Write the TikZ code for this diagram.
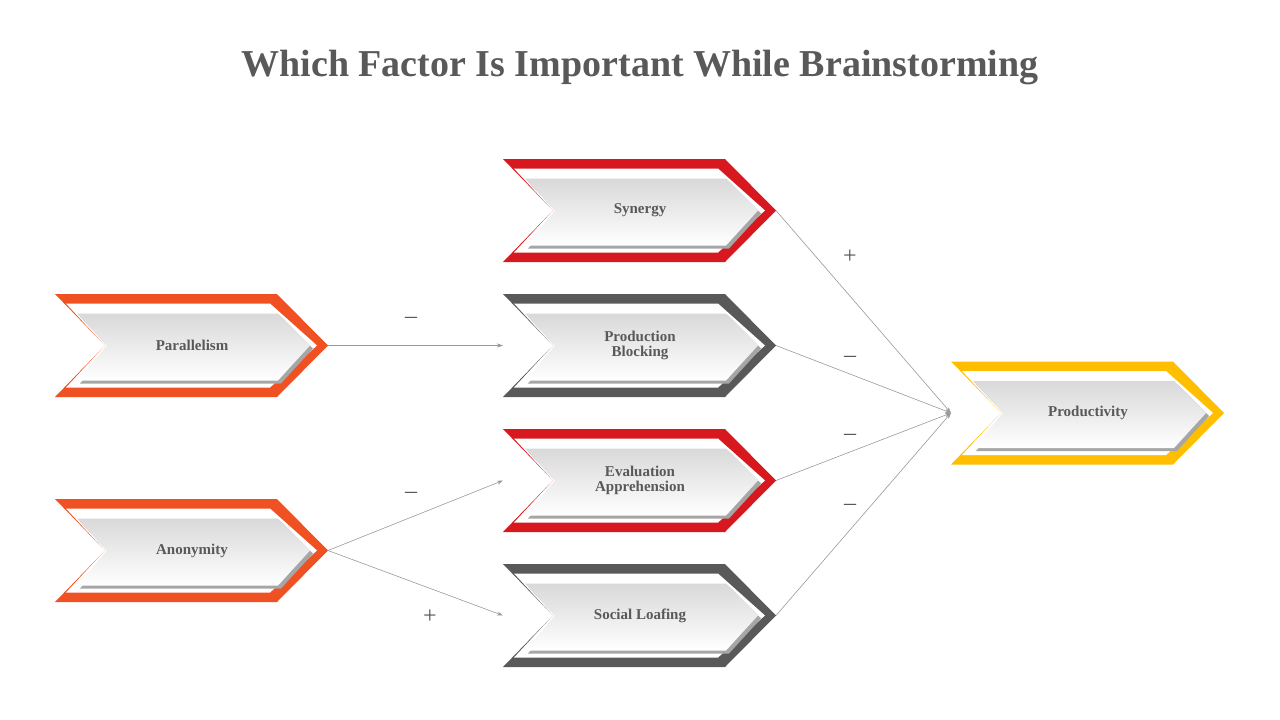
\documentclass[tikz,border=0pt]{standalone}
\usepackage{fontspec}
\setmainfont{Liberation Serif}
\usetikzlibrary{arrows.meta}
\definecolor{corange}{HTML}{F05123}
\definecolor{cred}{HTML}{D7191F}
\definecolor{cgray}{HTML}{595959}
\definecolor{cyel}{HTML}{FFBF00}
\definecolor{ctext}{HTML}{595959}
\tikzset{conn/.style={draw=gray!80,line width=0.6pt,-{Stealth[length=6pt,width=4pt]}},
 lbl/.style={text=ctext,font=\bfseries\fontsize{15}{17}\selectfont,align=center},
 sign/.style={text=ctext,font=\fontsize{24}{24}\selectfont}}
\newcommand\chev[5]{% name, L, C, color, text
 \fill[#4] (#2,#3-51.5)--(#2+222,#3-51.5)--(#2+273,#3)--(#2+222,#3+51.5)--(#2,#3+51.5)--(#2+50,#3)--cycle;
 \fill[white] (#2+11,#3-42)--(#2+215,#3-42)--(#2+262,#3)--(#2+215,#3+42)--(#2+11,#3+42)--(#2+50,#3)--cycle;
 \fill[gray!70] (#2+25,#3-29)--(#2+226,#3-29)--(#2+258,#3+3)--(#2+226,#3+38)--(#2+25,#3+38)--(#2+55,#3+3)--cycle;
 \shade[top color=gray!30,bottom color=white] (#2+22,#3-32)--(#2+223,#3-32)--(#2+255,#3)--(#2+223,#3+35)--(#2+22,#3+35)--(#2+52,#3)--cycle;
 \node[lbl] (#1) at (#2+137,#3) {#5};
 \coordinate (#1-e) at (#2+273,#3);
 \coordinate (#1-w) at (#2,#3);}
\begin{document}
\begin{tikzpicture}[x=1pt,y=-1pt]
\useasboundingbox (0,0) rectangle (1280,720);
\node[text=ctext,font=\bfseries\fontsize{38}{40}\selectfont] (title) at (640,68) {Which Factor Is Important While Brainstorming};
\chev{par}{55}{345.5}{corange}{Parallelism}
\chev{ano}{55}{550.5}{corange}{Anonymity}
\chev{syn}{503}{210.5}{cred}{Synergy}
\chev{pb}{503}{345.5}{cgray}{Production\\[-2pt]Blocking}
\chev{ev}{503}{480.5}{cred}{Evaluation\\[-2pt]Apprehension}
\chev{sl}{503}{615.5}{cgray}{Social Loafing}
\chev{pr}{951}{413}{cyel}{Productivity}
\draw[conn] (par-e)--(pb-w);
\draw[conn] (ano-e)--(ev-w);
\draw[conn] (ano-e)--(sl-w);
\foreach \s in {syn,pb,ev,sl} \draw[conn] (\s-e)--(pr-w);
\node[sign] (s1) at (411,320) {–};
\node[sign] (s2) at (411,495) {–};
\node[sign] (s3) at (430,617) {+};
\node[sign] (s4) at (850,257) {+};
\node[sign] (s5) at (850,359) {–};
\node[sign] (s6) at (850,437) {–};
\node[sign] (s7) at (850,507) {–};
\end{tikzpicture}
\end{document}
